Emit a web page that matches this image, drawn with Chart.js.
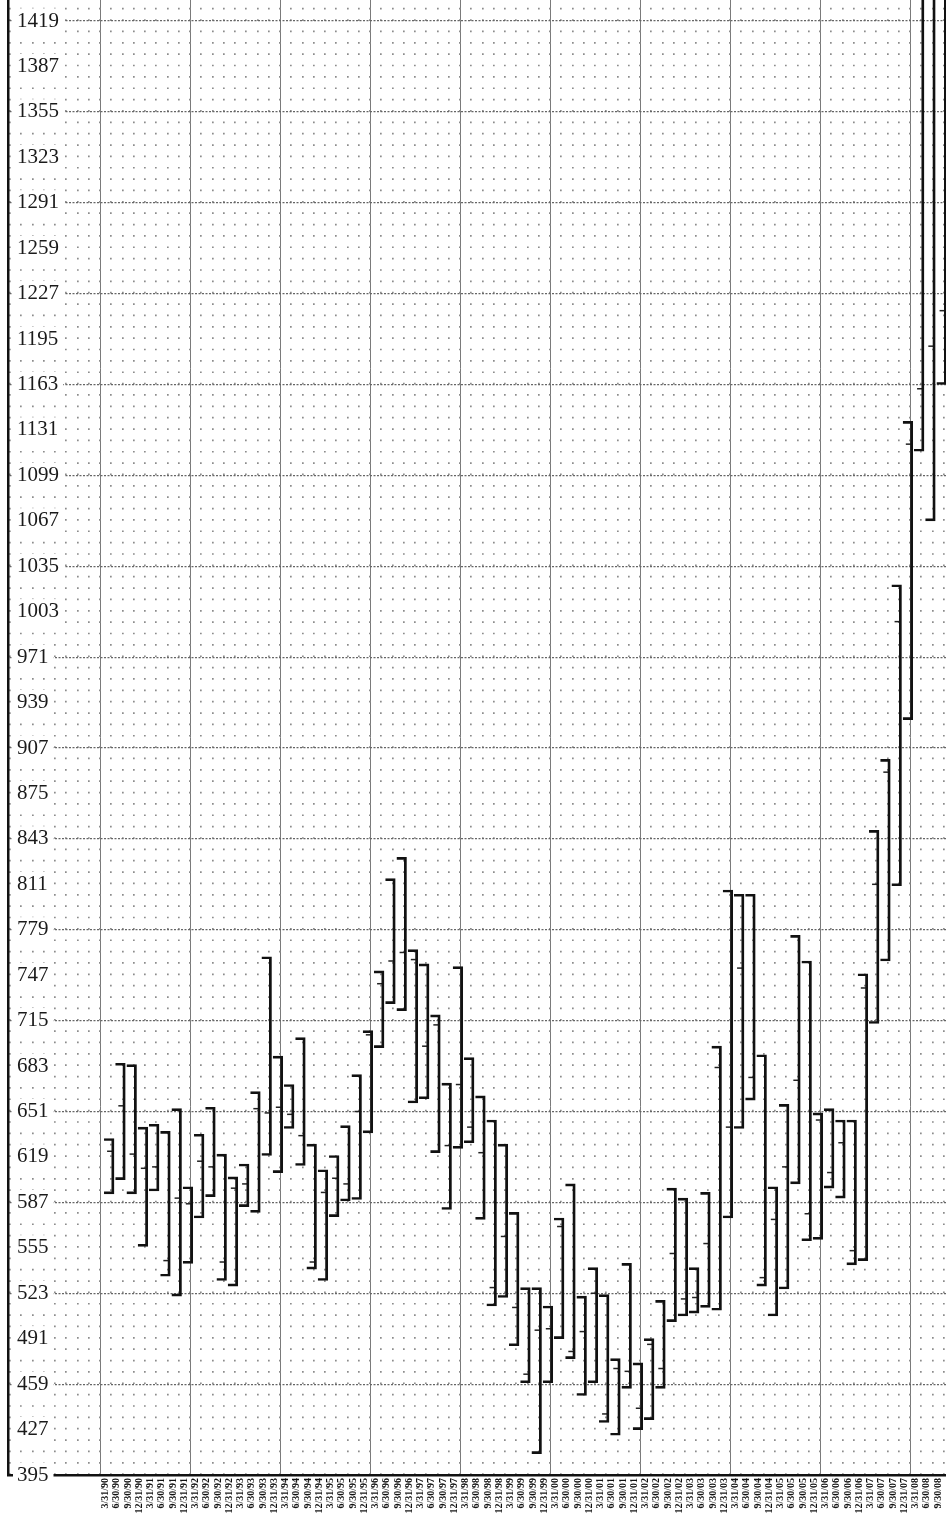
<!DOCTYPE html>
<html>
<head>
<meta charset="utf-8">
<script src="https://cdn.jsdelivr.net/npm/chart.js@4.4.1/dist/chart.umd.min.js"></script>
<style>
  html, body { margin: 0; padding: 0; background: #fff; }
  canvas { display: block; }
</style>
</head>
<body>
<canvas id="rangeChart" width="946" height="1522"></canvas>
<script>
// quarterly ranges, 1990 - 2008
const quarters = [
  '3/31/90', '6/30/90', '9/30/90', '12/31/90',
  '3/31/91', '6/30/91', '9/30/91', '12/31/91',
  '3/31/92', '6/30/92', '9/30/92', '12/31/92',
  '3/31/93', '6/30/93', '9/30/93', '12/31/93',
  '3/31/94', '6/30/94', '9/30/94', '12/31/94',
  '3/31/95', '6/30/95', '9/30/95', '12/31/95',
  '3/31/96', '6/30/96', '9/30/96', '12/31/96',
  '3/31/97', '6/30/97', '9/30/97', '12/31/97',
  '3/31/98', '6/30/98', '9/30/98', '12/31/98',
  '3/31/99', '6/30/99', '9/30/99', '12/31/99',
  '3/31/00', '6/30/00', '9/30/00', '12/31/00',
  '3/31/01', '6/30/01', '9/30/01', '12/31/01',
  '3/31/02', '6/30/02', '9/30/02', '12/31/02',
  '3/31/03', '6/30/03', '9/30/03', '12/31/03',
  '3/31/04', '6/30/04', '9/30/04', '12/31/04',
  '3/31/05', '6/30/05', '9/30/05', '12/31/05',
  '3/31/06', '6/30/06', '9/30/06', '12/31/06',
  '3/31/07', '6/30/07', '9/30/07', '12/31/07',
  '3/31/08', '6/30/08', '9/30/08',
];

const highs = [
  632, 685, 684, 640, 642, 637, 653, 598, 635, 654, 621, 605,
  614, 665, 760, 690, 670, 703, 628, 610, 620, 641, 677, 708,
  750, 815, 830, 765, 755, 719, 671, 753, 689, 662, 645, 628,
  580, 527, 527, 514, 576, 600, 521, 541, 522, 477, 544, 474,
  491, 518, 597, 590, 541, 594, 697, 807, 804, 804, 691, 598,
  656, 775, 757, 650, 653, 645, 645, 748, 849, 899, 1022, 1137,
  1460, 1470, 1480,
];

const lows = [
  593, 603, 593, 556, 595, 535, 521, 544, 576, 591, 532, 528,
  584, 580, 620, 608, 639, 613, 540, 532, 577, 588, 589, 636,
  696, 727, 722, 657, 660, 622, 582, 625, 629, 575, 514, 520,
  486, 460, 410, 460, 491, 477, 451, 460, 432, 423, 456, 427,
  434, 456, 503, 507, 509, 513, 511, 576, 639, 659, 528, 507,
  526, 600, 560, 561, 597, 590, 543, 546, 713, 757, 810, 927,
  1116, 1067, 1163,
];

const closes = [
  623, 655, 621, 611, 612, 546, 590, 586, 616, 612, 545, 597,
  600, 653, 650, 654, 649, 634, 545, 594, 604, 600, 651, 705,
  741, 757, 763, 758, 697, 712, 627, 670, 640, 622, 527, 563,
  513, 466, 497, 498, 570, 482, 496, 523, 438, 470, 468, 442,
  487, 470, 551, 519, 520, 558, 682, 640, 752, 675, 534, 575,
  612, 673, 579, 645, 608, 629, 553, 738, 811, 890, 996, 1121,
  1160, 1190, 1215,
];

// value axis labels every 32, heavy lines every 64
const yTicks = [
  395, 427, 459, 491, 523, 555, 587, 619, 651, 683, 715, 747, 779,
  811, 843, 875, 907, 939, 971, 1003, 1035, 1067, 1099, 1131, 1163,
  1195, 1227, 1259, 1291, 1323, 1355, 1387, 1419,
];
const majorCols = [-0.5, 7.5, 15.5, 23.5, 31.5, 39.5, 47.5, 55.5, 63.5, 71.5];

const X_MIN = -8.68;
const X_MAX = 74.7;

const minorCols = [];
for (let c = -8.5; c <= X_MAX; c += 1) minorCols.push(c);

// shared settings for the helper x axes that only draw grid lines
const gridOnlyX = (cols, grid, border) => ({
  type: 'linear',
  position: 'top',
  min: X_MIN,
  max: X_MAX,
  offset: false,
  afterBuildTicks: (axis) => {
    axis.ticks = cols.map((v) => ({ value: v }));
  },
  afterFit: (axis) => {
    axis.height = 0;
    axis.paddingLeft = 0;
    axis.paddingRight = 0;
  },
  ticks: { display: false },
  grid: Object.assign({ drawTicks: false, offset: false }, grid),
  border: border,
});

const ctx = document.getElementById('rangeChart');
new Chart(ctx, {
  type: 'bar',
  data: {
    datasets: [
      {
        type: 'bar',
        label: 'range',
        data: quarters.map((q, i) => ({ x: i + 0.3, y: [lows[i], highs[i]] })),
        backgroundColor: 'rgba(0,0,0,0)',
        borderColor: '#111',
        borderWidth: { top: 2, right: 2.2, bottom: 2, left: 0 },
        borderSkipped: false,
        barThickness: 10,
        xAxisID: 'x',
        yAxisID: 'y',
      },
      {
        type: 'scatter',
        label: 'close',
        data: quarters.map((q, i) => ({ x: i + 0.35, y: closes[i] })),
        pointStyle: 'line',
        pointRadius: 2.5,
        borderWidth: 1.5,
        borderColor: '#222',
        backgroundColor: '#222',
        xAxisID: 'x',
        yAxisID: 'y',
      },
    ],
  },
  options: {
    responsive: false,
    animation: false,
    layout: { padding: 0, autoPadding: false },
    plugins: {
      legend: { display: false },
      tooltip: { enabled: false },
    },
    scales: {
      x: {
        type: 'linear',
        position: 'bottom',
        min: X_MIN,
        max: X_MAX,
        offset: false,
        afterBuildTicks: (axis) => {
          axis.ticks = quarters.map((q, i) => ({ value: i }));
        },
        afterFit: (axis) => {
          axis.height = 47;
          axis.paddingLeft = 0;
          axis.paddingRight = 0;
        },
        ticks: {
          autoSkip: false,
          minRotation: 90,
          maxRotation: 90,
          padding: 3,
          color: '#111',
          font: { family: "'Liberation Serif', serif", size: 10, weight: 'bold' },
          callback: (v) => quarters[v],
        },
        grid: { display: false, drawTicks: false, offset: false },
        border: { color: '#111', width: 2.5 },
      },
      xMajor: gridOnlyX(majorCols, { color: '#7a7a7a', lineWidth: 1 }, { display: false }),
      xMinor: gridOnlyX(minorCols, { color: '#8c8c8c', lineWidth: 1.7 },
        { display: false, dash: [1.7, 9.66], dashOffset: 3.5 }),
      y: {
        type: 'linear',
        position: 'left',
        min: 395,
        max: 1433.8,
        afterBuildTicks: (axis) => {
          axis.ticks = yTicks.map((v) => ({ value: v }));
        },
        afterFit: (axis) => {
          axis.width = 8;
          axis.paddingTop = 0;
          axis.paddingBottom = 0;
        },
        ticks: {
          mirror: true,
          padding: 9,
          color: '#1a1a1a',
          font: { family: "'Liberation Serif', serif", size: 21 },
          showLabelBackdrop: true,
          backdropColor: '#fff',
          backdropPadding: { top: 0, bottom: 0, left: 4, right: 5 },
          callback: (v) => String(v),
        },
        grid: {
          drawTicks: false,
          lineWidth: 1.2,
          color: (c) => ((c.tick && (c.tick.value - 395) % 64 === 0) ? '#666' : 'rgba(0,0,0,0)'),
        },
        border: { color: '#111', width: 2.5, dash: [2, 1.5] },
      },
    },
  },
});
</script>
</body>
</html>
